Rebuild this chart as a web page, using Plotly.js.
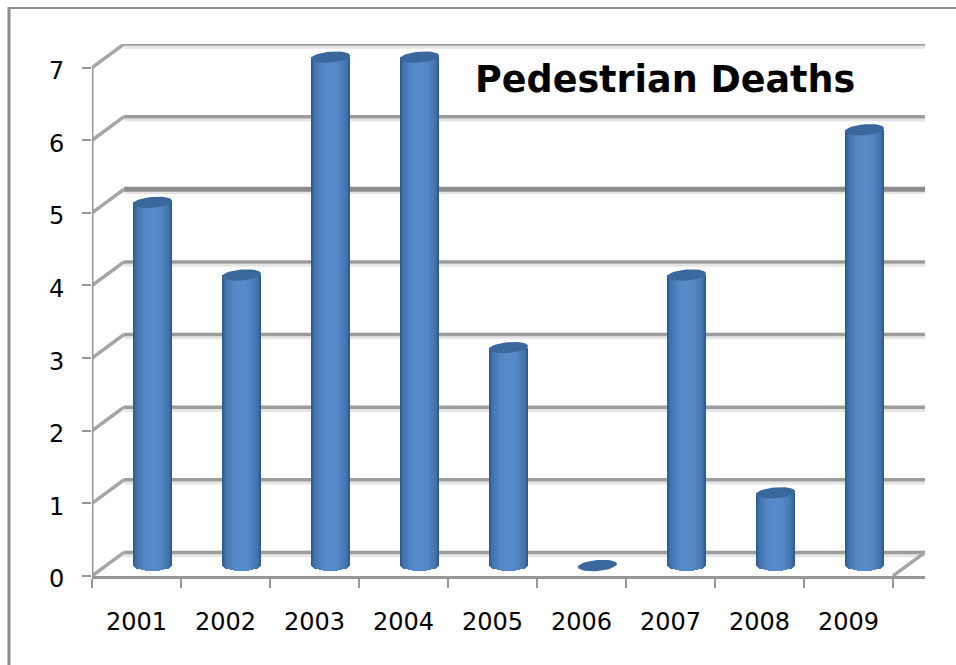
<!DOCTYPE html>
<html><head><meta charset="utf-8">
<script src="https://cdn.plot.ly/plotly-3.0.1.min.js"></script>
<style>html,body{margin:0;padding:0;background:#fff}</style></head>
<body><div id="c" style="width:956px;height:665px"></div>
<script>
const years = ['2001','2002','2003','2004','2005','2006','2007','2008','2009'];
const deaths = [5,4,7,7,3,0,4,1,6];
const yTicks = [0,1,2,3,4,5,6,7];
const title = 'Pedestrian Deaths';

const depthX = 0.36, depthY = 0.325;
const stripFractions = [1,0.96,0.9,0.82,0.72,0.6,0.48,0.36,0.24];
const stripColors = ['#2f5a8c','#35619a','#3c6ca4','#4373ae','#4a7bb7','#4f81be','#5385c3','#5588c7','#578ac9'];
const barWidth = 0.44, capHalfH = 0.075, capTilt = 0.022;
const cx = i => i + depthX/2, baseY = depthY/2 - 0.018;

const traces = stripFractions.map((f,k)=>{
  const w = barWidth*f;
  const drop = capHalfH*Math.sqrt(Math.max(0,1-f*f*0.98));
  return {type:'bar',x:years,
    y:deaths.map(v=>v>0?v+drop:0),
    base:baseY-drop,
    width:w, offset:depthX/2-w/2,
    marker:{color:stripColors[k],line:{width:0}},
    hoverinfo:'skip',showlegend:false};
});
const wallColor='#979797';
traces.push({type:'scatter',mode:'lines',x:[-0.5,-0.5],y:[0,7],xaxis:'x2',yaxis:'y',
  line:{color:wallColor,width:3},cliponaxis:false,showlegend:false,hoverinfo:'skip'});

const angles = Array.from({length:37},(_,k)=>k*Math.PI/18);
deaths.forEach((v,i)=>{
  traces.push({type:'scatter',mode:'lines',xaxis:'x2',yaxis:'y',fill:'toself',fillcolor:'#3a679c',
    x:angles.map(a=>cx(i)+barWidth/2*Math.cos(a)),
    y:angles.map(a=>v+baseY+capHalfH*Math.sin(a)+capTilt*Math.cos(a)),
    line:{width:0,color:'#3a679c'},showlegend:false,hoverinfo:'skip'});
});

const shapes=[];
yTicks.forEach(t=>{
  const y=t+depthY;
  shapes.push({type:'line',layer:'below',xref:'x2',yref:'y',x0:-0.5+depthX,x1:8.5+depthX,y0:y-0.045,y1:y-0.045,line:{color:'#e6e6e6',width:3}});
  shapes.push({type:'line',layer:'below',xref:'x2',yref:'y',x0:-0.5+depthX,x1:8.5+depthX,y0:y,y1:y,line:{color:t===5?'#8c8c8c':'#9c9c9c',width:t===5?5:3.5}});
  shapes.push({type:'line',layer:'below',xref:'x2',yref:'y',x0:-0.5,x1:-0.5+depthX,y0:t,y1:y,line:{color:'#a6a6a6',width:3.5}});
});
shapes.push({type:'line',layer:'below',xref:'x2',yref:'y',x0:8.5,x1:8.5+depthX,y0:0,y1:depthY,line:{color:'#a6a6a6',width:3.5}});
const W=833,H=532;
shapes.push({type:'line',xref:'paper',yref:'paper',layer:'below',x0:(9-92)/W,x1:(9-92)/W,y0:(576-665)/H,y1:(576-7)/H,line:{color:'#8c8c8c',width:3}});
shapes.push({type:'line',xref:'paper',yref:'paper',layer:'below',x0:(8-92)/W,x1:(956-92)/W,y0:(576-8)/H,y1:(576-8)/H,line:{color:'#8c8c8c',width:2}});

const tickFont={family:'DejaVu Sans, Verdana, sans-serif',size:24,color:'#000'};
const layout={
  width:956,height:665,margin:{l:92,r:31,t:44,b:89},
  paper_bgcolor:'#fff',plot_bgcolor:'rgba(0,0,0,0)',
  barmode:'overlay',bargap:0,showlegend:false,
  title:{text:title,x:475/956,xanchor:'left',y:(665-79)/665,yanchor:'middle',
    font:{family:'DejaVu Sans, Verdana, sans-serif',size:36.5,color:'#000',weight:700}},
  xaxis:{type:'category',categoryorder:'array',categoryarray:years,range:[-0.5,8.5+depthX],tickson:'boundaries',
    showgrid:false,zeroline:false,showline:true,linecolor:wallColor,linewidth:3,
    ticks:'outside',ticklen:9,tickwidth:2,tickcolor:wallColor,tickfont:tickFont,ticklabelstandoff:22},
  xaxis2:{overlaying:'x',anchor:'y',type:'linear',range:[-0.5,8.5+depthX],visible:false},
  yaxis:{range:[0,7+depthY],tickvals:yTicks,ticktext:yTicks.map(String),showgrid:false,zeroline:false,showline:false,
    ticks:'outside',ticklen:9,tickwidth:2,tickcolor:wallColor,tickfont:tickFont,ticklabelstandoff:13,ticklabelshift:3},
  shapes
};
Plotly.newPlot('c',traces,layout,{displayModeBar:false,staticPlot:true});
</script></body></html>
